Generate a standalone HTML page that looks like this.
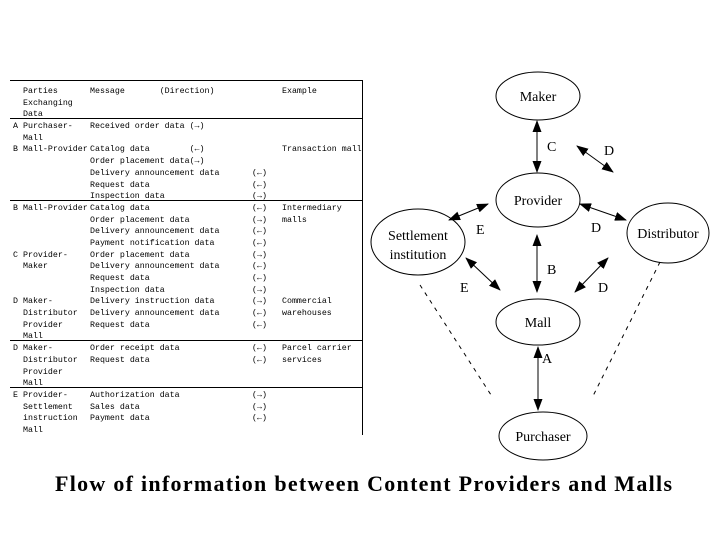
<!DOCTYPE html>
<html><head><meta charset="utf-8"><style>
html,body{margin:0;padding:0;background:#fff;}
body{width:715px;height:536px;position:relative;overflow:hidden;}
.tb{position:absolute;left:13px;top:86px;font-family:"Liberation Mono",monospace;font-size:8.3px;color:#000;white-space:normal;}
.tb div{height:11.7px;line-height:11.7px;white-space:nowrap;overflow:visible;}
.tb span{display:inline-block;vertical-align:top;white-space:pre;height:11.7px;}
.a{width:10px}.p{width:67px}.m{width:162px}.d{width:30px}
</style></head><body>
<svg width="715" height="536" style="position:absolute;left:0;top:0" xmlns="http://www.w3.org/2000/svg">
<defs><marker id="a" markerWidth="12" markerHeight="9" refX="11" refY="4.5" orient="auto-start-reverse" markerUnits="userSpaceOnUse"><path d="M0,0 L12,4.5 L0,9 z" fill="#000"/></marker></defs>
<g stroke="#000" stroke-width="1">
<line x1="10" y1="80.5" x2="362" y2="80.5"/>
<line x1="10" y1="118.5" x2="362" y2="118.5"/>
<line x1="10" y1="200.5" x2="362" y2="200.5"/>
<line x1="10" y1="340.5" x2="362" y2="340.5"/>
<line x1="10" y1="387.5" x2="362" y2="387.5"/>
<line x1="362.5" y1="80" x2="362.5" y2="435"/>
</g>
<g fill="#fff" stroke="#000" stroke-width="1">
<ellipse cx="538" cy="96" rx="42" ry="24"/>
<ellipse cx="538" cy="200" rx="42" ry="27"/>
<ellipse cx="418" cy="242" rx="47" ry="33"/>
<ellipse cx="668" cy="233" rx="41" ry="30"/>
<ellipse cx="538" cy="322" rx="42" ry="23"/>
<ellipse cx="543" cy="436" rx="44" ry="24"/>
</g>
<g stroke="#000" stroke-width="1" marker-start="url(#a)" marker-end="url(#a)">
<line x1="537" y1="121" x2="537" y2="172"/>
<line x1="577" y1="146" x2="613" y2="172"/>
<line x1="449" y1="220" x2="488" y2="204"/>
<line x1="580" y1="204" x2="626" y2="220"/>
<line x1="537" y1="235" x2="537" y2="292"/>
<line x1="466" y1="258" x2="500" y2="290"/>
<line x1="608" y1="258" x2="575" y2="292"/>
<line x1="538" y1="347" x2="538" y2="410"/>
</g>
<g stroke="#000" stroke-width="1" stroke-dasharray="4,5">
<line x1="420" y1="285" x2="493" y2="398"/>
<line x1="660" y1="262" x2="592" y2="398"/>
</g>
<g font-family="Liberation Serif,serif" font-size="14" fill="#000">
<text x="538" y="101" text-anchor="middle">Maker</text>
<text x="538" y="205" text-anchor="middle">Provider</text>
<text x="418" y="240" text-anchor="middle">Settlement</text>
<text x="418" y="259" text-anchor="middle">institution</text>
<text x="668" y="238" text-anchor="middle">Distributor</text>
<text x="538" y="327" text-anchor="middle">Mall</text>
<text x="543" y="441" text-anchor="middle">Purchaser</text>
<text x="547" y="151">C</text>
<text x="604" y="155">D</text>
<text x="476" y="234">E</text>
<text x="591" y="232">D</text>
<text x="547" y="274">B</text>
<text x="460" y="292">E</text>
<text x="598" y="292">D</text>
<text x="542" y="363">A</text>
</g>
<text x="55" y="491" textLength="617" lengthAdjust="spacing" font-family="Liberation Serif,serif" font-weight="bold" font-size="22" fill="#000">Flow of information between Content Providers and Malls</text>
</svg>
<div class="tb">
<div><span class="a"></span><span class="p">Parties</span><span class="m">Message       (Direction)</span><span class="d"></span><span>Example</span></div>
<div><span class="a"></span><span class="p">Exchanging</span></div>
<div><span class="a"></span><span class="p">Data</span></div>
<div><span class="a">A</span><span class="p">Purchaser-</span><span class="m">Received order data (→)</span></div>
<div><span class="a"></span><span class="p">Mall</span></div>
<div><span class="a">B</span><span class="p">Mall-Provider</span><span class="m">Catalog data        (←)</span><span class="d"></span><span>Transaction mall</span></div>
<div><span class="a"></span><span class="p"></span><span class="m">Order placement data(→)</span></div>
<div><span class="a"></span><span class="p"></span><span class="m">Delivery announcement data</span><span class="d">(←)</span></div>
<div><span class="a"></span><span class="p"></span><span class="m">Request data</span><span class="d">(←)</span></div>
<div><span class="a"></span><span class="p"></span><span class="m">Inspection data</span><span class="d">(→)</span></div>
<div><span class="a">B</span><span class="p">Mall-Provider</span><span class="m">Catalog data</span><span class="d">(←)</span><span>Intermediary</span></div>
<div><span class="a"></span><span class="p"></span><span class="m">Order placement data</span><span class="d">(→)</span><span>malls</span></div>
<div><span class="a"></span><span class="p"></span><span class="m">Delivery announcement data</span><span class="d">(←)</span></div>
<div><span class="a"></span><span class="p"></span><span class="m">Payment notification data</span><span class="d">(←)</span></div>
<div><span class="a">C</span><span class="p">Provider-</span><span class="m">Order placement data</span><span class="d">(→)</span></div>
<div><span class="a"></span><span class="p">Maker</span><span class="m">Delivery announcement data</span><span class="d">(←)</span></div>
<div><span class="a"></span><span class="p"></span><span class="m">Request data</span><span class="d">(←)</span></div>
<div><span class="a"></span><span class="p"></span><span class="m">Inspection data</span><span class="d">(→)</span></div>
<div><span class="a">D</span><span class="p">Maker-</span><span class="m">Delivery instruction data</span><span class="d">(→)</span><span>Commercial</span></div>
<div><span class="a"></span><span class="p">Distributor</span><span class="m">Delivery announcement data</span><span class="d">(←)</span><span>warehouses</span></div>
<div><span class="a"></span><span class="p">Provider</span><span class="m">Request data</span><span class="d">(←)</span></div>
<div><span class="a"></span><span class="p">Mall</span></div>
<div><span class="a">D</span><span class="p">Maker-</span><span class="m">Order receipt data</span><span class="d">(←)</span><span>Parcel carrier</span></div>
<div><span class="a"></span><span class="p">Distributor</span><span class="m">Request data</span><span class="d">(←)</span><span>services</span></div>
<div><span class="a"></span><span class="p">Provider</span></div>
<div><span class="a"></span><span class="p">Mall</span></div>
<div><span class="a">E</span><span class="p">Provider-</span><span class="m">Authorization data</span><span class="d">(→)</span></div>
<div><span class="a"></span><span class="p">Settlement</span><span class="m">Sales data</span><span class="d">(→)</span></div>
<div><span class="a"></span><span class="p">instruction</span><span class="m">Payment data</span><span class="d">(←)</span></div>
<div><span class="a"></span><span class="p">Mall</span></div>
</div>
</body></html>
